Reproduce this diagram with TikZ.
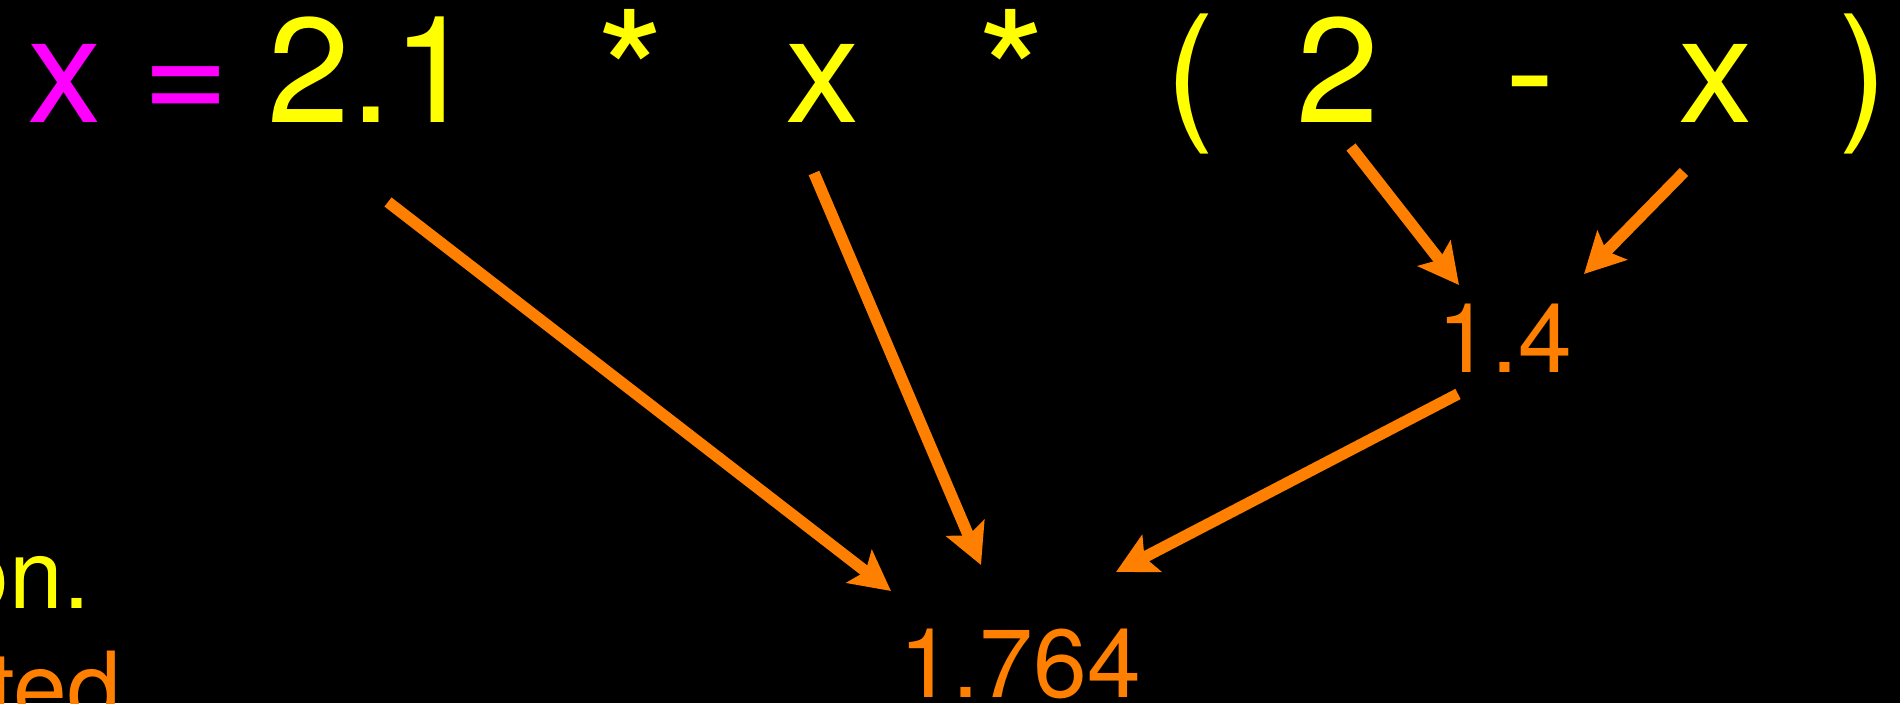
\documentclass[tikz,border=0pt]{standalone}
\usepackage{fontspec}
\setmainfont{TeX Gyre Heros}
\usepackage{tikz}
\usetikzlibrary{arrows.meta,positioning}
\definecolor{varMagenta}{RGB}{255,0,255}
\definecolor{exprYellow}{RGB}{255,255,0}
\definecolor{valOrange}{RGB}{255,128,0}
\tikzset{
  tok/.style={inner sep=0pt, anchor=base, font=\fontsize{42.4}{50}\selectfont, text=exprYellow},
  vartok/.style={tok, text=varMagenta},
  startok/.style={tok, font=\fontsize{50}{58}\selectfont},
  valnode/.style={inner sep=0pt, anchor=base, font=\fontsize{27.5}{33}\selectfont, text=valOrange},
  sidetext/.style={valnode, anchor=base east},
  flow/.style={-{Stealth[length=4mm, width=4.1mm, inset=0.8mm]}, line width=1.15mm, draw=valOrange}
}
\begin{document}
\begin{tikzpicture}[x=0.1mm, y=-0.1mm]
        \useasboundingbox (0,0) rectangle (1900,703);
        \clip (0,0) rectangle (1900,703);
        \fill[black] (0,0) rectangle (1900,703);
        % the expression
        \node[vartok] (lhs) at (64.5,122) {x};
        \node[vartok] (eq) at (186,122) {=};
        \node[tok] (c21) at (371.5,122) {2.1};
        \node[startok] (m1) at (631,137) {*};
        \node[tok] (xa) at (823,122) {x};
        \node[startok] (m2) at (1012,137) {*};
        \node[tok] (lp) at (1190.5,122) {(};
        \node[tok] (two) at (1338,122) {2};
        \node[tok] (minus) at (1530,122) {-};
        \node[tok] (xb) at (1716,122) {x};
        \node[tok] (rp) at (1863,122) {)};
        % values
        \node[valnode] (sub) at (1505,372) {1.4};
        \node[valnode] (res) at (1020,697) {1.764};
        % cut-off text at the left
        \node[sidetext, text=exprYellow] (on) at (91,608) {on.};
        \node[sidetext] (ted) at (122,721) {ted};
        \draw[flow] ([shift={(16.5,80)}]c21.base) -- ([shift={(-129,-106)}]res.base);
        \draw[flow] ([shift={(-9,51)}]xa.base) -- ([shift={(-39,-132)}]res.base);
        \draw[flow] ([shift={(-47,22)}]sub.base) -- ([shift={(96,-125)}]res.base);
        \draw[flow] ([shift={(13,25)}]two.base) -- ([shift={(-46,-87)}]sub.base);
        \draw[flow] ([shift={(-32,50)}]xb.base) -- ([shift={(79,-98)}]sub.base);
      \end{tikzpicture}
\end{document}
